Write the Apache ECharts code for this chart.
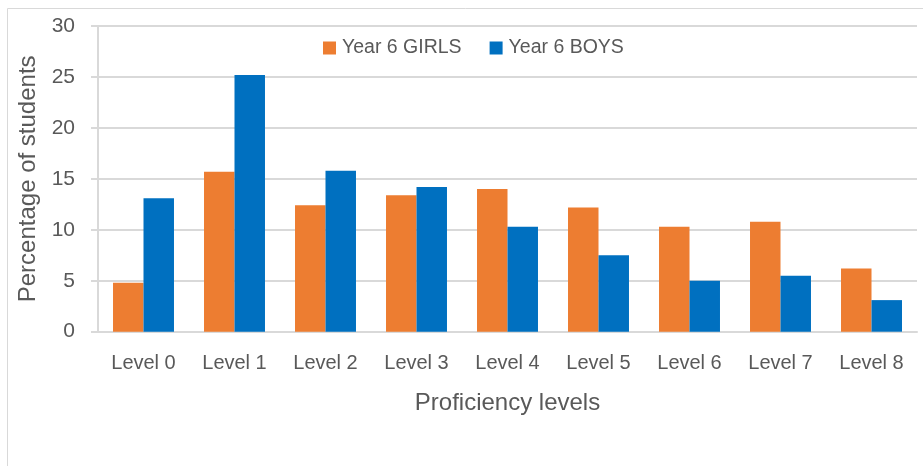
<!DOCTYPE html>
<html>
<head>
<meta charset="utf-8">
<script src="https://cdn.jsdelivr.net/npm/echarts@6/dist/echarts.min.js"></script>
<style>
html,body{margin:0;padding:0;background:#fff;}
#c{width:923px;height:466px;}
</style>
</head>
<body>
<div id="c"></div>
<script>
const categories = ['Level 0','Level 1','Level 2','Level 3','Level 4','Level 5','Level 6','Level 7','Level 8'];
const girls = [4.8, 15.7, 12.4, 13.4, 14.0, 12.2, 10.3, 10.8, 6.2];
const boys = [13.1, 25.2, 15.8, 14.2, 10.3, 7.5, 5.0, 5.5, 3.1];
const yTicks = [0, 5, 10, 15, 20, 25, 30];

const FONT = 'Liberation Sans';
const TXT = '#595959';
const chart = echarts.init(document.getElementById('c'), null, {renderer:'canvas'});
chart.setOption({
  animation: false,
  textStyle: {fontFamily: FONT, color: TXT},
  graphic: [{
    type: 'rect', silent: true,
    shape: {x: 7.5, y: 8.5, width: 2000, height: 2000},
    style: {fill: 'none', stroke: '#D9D9D9', lineWidth: 1}
  }],
  legend: {
    left: 323, top: 38, padding: 0,
    itemWidth: 13, itemHeight: 13, itemGap: 28,
    icon: 'rect',
    textStyle: {fontFamily: FONT, fontSize: 19.5, color: TXT, padding: [0,0,0,1]},
    data: ['Year 6 GIRLS', 'Year 6 BOYS']
  },
  grid: {left: 98, right: 6, top: 26, bottom: 134.3, containLabel: false},
  xAxis: {
    type: 'category', data: categories,
    name: 'Proficiency levels', nameLocation: 'middle', nameGap: 60,
    nameTextStyle: {fontFamily: FONT, fontSize: 24, color: TXT},
    axisLine: {show: true, lineStyle: {color: '#D9D9D9', width: 2}},
    axisTick: {show: false},
    axisLabel: {fontFamily: FONT, fontSize: 20, color: TXT, margin: 22}
  },
  yAxis: {
    type: 'value', min: yTicks[0], max: yTicks[yTicks.length-1], interval: 5,
    name: 'Percentage of students', nameLocation: 'middle', nameGap: 55,
    nameTextStyle: {fontFamily: FONT, fontSize: 24, color: TXT},
    axisLine: {show: true, lineStyle: {color: '#D9D9D9', width: 2}},
    axisTick: {show: true, length: 7, lineStyle: {color: '#D9D9D9', width: 2}},
    splitLine: {show: true, lineStyle: {color: '#D9D9D9', width: 2}},
    axisLabel: {fontFamily: FONT, fontSize: 21, color: TXT, margin: 23}
  },
  series: [
    {name: 'Year 6 GIRLS', type: 'bar', data: girls, barGap: '0%', barCategoryGap: '33%',
     itemStyle: {color: '#ED7D31'}},
    {name: 'Year 6 BOYS', type: 'bar', data: boys, barGap: '0%', barCategoryGap: '33%',
     itemStyle: {color: '#0070C0'}}
  ]
});
</script>
</body>
</html>
